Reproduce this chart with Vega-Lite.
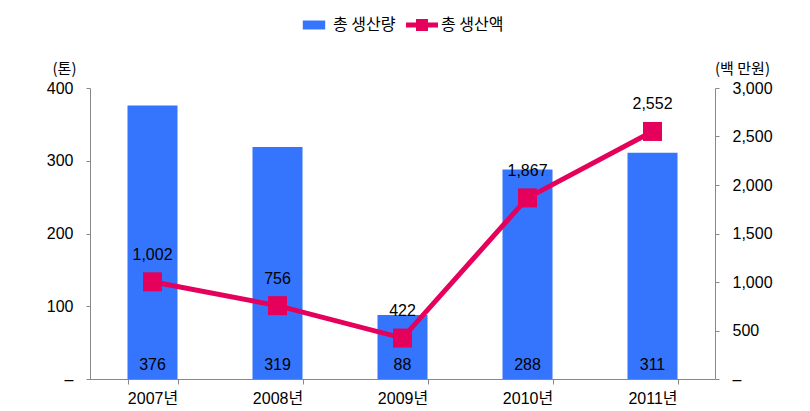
{
  "$schema": "https://vega.github.io/schema/vega-lite/v6.json",
  "width": 625,
  "height": 291,
  "autosize": {"type": "none"},
  "padding": {"left": 90, "top": 88, "right": 95, "bottom": 32},
  "background": "white",
  "config": {
    "view": {"stroke": null},
    "font": "Liberation Sans, Noto Sans CJK KR",
    "axis": {
      "labelFont": "Liberation Sans, Noto Sans CJK KR",
      "labelFontSize": 16,
      "labelColor": "black",
      "domainColor": "#888888",
      "tickColor": "#888888",
      "grid": false,
      "titleFont": "Noto Sans CJK KR",
      "titleFontSize": 15,
      "titleFontWeight": "normal",
      "titleColor": "black"
    },
    "legend": {
      "labelFont": "Noto Sans CJK KR",
      "labelFontSize": 16,
      "labelColor": "black"
    }
  },
  "data": {
    "values": [
      {"year": "2007년", "amount": 376, "value": 1002},
      {"year": "2008년", "amount": 319, "value": 756},
      {"year": "2009년", "amount": 88, "value": 422},
      {"year": "2010년", "amount": 288, "value": 1867},
      {"year": "2011년", "amount": 311, "value": 2552}
    ]
  },
  "encoding": {
    "x": {
      "field": "year",
      "type": "nominal",
      "sort": null,
      "scale": {"paddingInner": 0.6, "paddingOuter": 0.3},
      "axis": {
        "title": null,
        "labelAngle": 0,
        "ticks": true,
        "tickBand": "extent",
        "tickSize": 5,
        "domain": true,
        "domainColor": "#888888",
        "domainWidth": 1,
        "zindex": 1,
        "labelPadding": 6
      }
    }
  },
  "layer": [
    {
      "encoding": {
        "y": {
          "type": "quantitative",
          "scale": {"domain": [0, 400]},
          "axis": {
            "title": "(톤)",
            "titleAngle": 0,
            "titleAlign": "center",
            "titleBaseline": "middle",
            "titleX": -26,
            "titleY": -20,
            "values": [0, 100, 200, 300, 400],
            "tickSize": 4,
            "labelPadding": 13,
            "labelExpr": "datum.value === 0 ? '–' : format(datum.value, ',')"
          }
        }
      },
      "layer": [
        {
          "mark": {"type": "bar"},
          "encoding": {
            "y": {"field": "amount"},
            "fill": {
              "datum": "총 생산량",
              "scale": {
                "domain": ["총 생산량", "총 생산액"],
                "range": ["#3575FE", "#E4005B"]
              },
              "legend": {
                "title": null,
                "orient": "none",
                "direction": "horizontal",
                "legendX": 208,
                "legendY": -79,
                "symbolSize": 1024,
                "labelOffset": 3,
                "columnPadding": 10,
                "encode": {
                  "symbols": {
                    "update": {
                      "shape": {"signal": "datum.value === '총 생산량' ? 'M-0.7,-0.28H0.7V0.28H-0.7Z' : 'M-1,-0.16H-0.375V-0.375H0.375V-0.16H1V0.16H0.375V0.375H-0.375V0.16H-1Z'"},
                      "strokeWidth": {"value": 0}
                    }
                  }
                }
              }
            }
          }
        },
        {
          "mark": {"type": "text", "dy": -14, "fontSize": 16, "font": "Liberation Sans", "color": "black"},
          "encoding": {
            "y": {"datum": 0},
            "text": {"field": "amount", "type": "quantitative", "format": ","}
          }
        }
      ]
    },
    {
      "encoding": {
        "y": {
          "field": "value",
          "type": "quantitative",
          "scale": {"domain": [0, 3000]},
          "axis": {
            "orient": "right",
            "title": "(백 만원)",
            "titleAngle": 0,
            "titleAlign": "center",
            "titleBaseline": "middle",
            "titleX": 27,
            "titleY": -20,
            "values": [0, 500, 1000, 1500, 2000, 2500, 3000],
            "tickSize": 4,
            "labelPadding": 13,
            "labelExpr": "datum.value === 0 ? '–' : format(datum.value, ',')"
          }
        }
      },
      "layer": [
        {
          "mark": {"type": "line", "color": "#E4005B", "strokeWidth": 5}
        },
        {
          "mark": {"type": "point", "shape": "square", "filled": true, "size": 361, "opacity": 1},
          "encoding": {
            "fill": {"datum": "총 생산액"}
          }
        },
        {
          "mark": {"type": "text", "dy": -27, "fontSize": 16, "font": "Liberation Sans", "color": "black"},
          "encoding": {
            "text": {"field": "value", "type": "quantitative", "format": ","}
          }
        }
      ]
    }
  ],
  "resolve": {"scale": {"y": "independent"}}
}
